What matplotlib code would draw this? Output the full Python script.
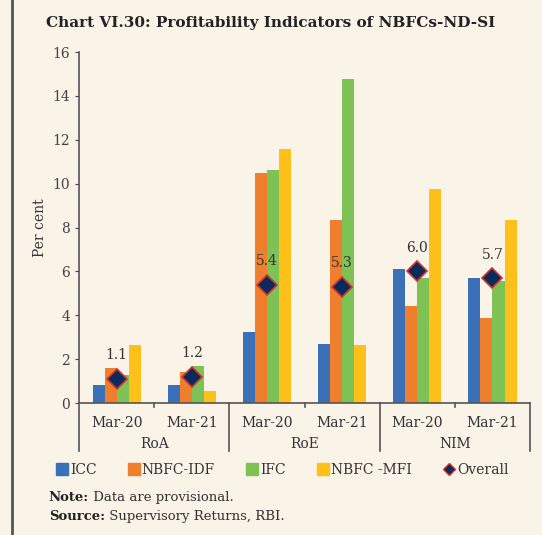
import numpy as np
import matplotlib.pyplot as plt
from matplotlib.lines import Line2D

cats = ['Mar-20', 'Mar-21', 'Mar-20', 'Mar-21', 'Mar-20', 'Mar-21']
groups = ['RoA', 'RoE', 'NIM']
icc = [0.84, 0.80, 3.24, 2.68, 6.12, 5.71]
idf = [1.61, 1.41, 10.48, 8.36, 4.41, 3.88]
ifc = [1.26, 1.69, 10.60, 14.75, 5.71, 5.56]
mfi = [2.63, 0.55, 11.60, 2.63, 9.77, 8.36]
overall = [1.1, 1.2, 5.4, 5.3, 6.0, 5.7]

bg = '#FAF3E8'
plt.rcParams['font.family'] = 'DejaVu Serif'
fig = plt.figure(figsize=(5.42, 5.35), dpi=100, facecolor=bg)
ax = fig.add_axes([0.1458, 0.2467, 0.8322, 0.6561], facecolor=bg)

x = np.arange(len(cats))
w = 0.16
cols = ['#3A70B8', '#F07F2D', '#7EC155', '#FFC01A']
names = ['ICC', 'NBFC-IDF', 'IFC', 'NBFC -MFI']
for i, (vals, c, n) in enumerate(zip([icc, idf, ifc, mfi], cols, names)):
    ax.bar(x + (i - 1.5) * w, vals, w, color=c, label=n)
ax.plot(x, overall, 'D', ms=10, color='#0B2A5C', mec='#D0342C', mew=1.2, ls='none', label='Overall')
for xi, v in zip(x, overall):
    ax.text(xi, v + 0.75, '%.1f' % v, ha='center', va='bottom', fontsize=10, color='#333333')

ax.set_xlim(-0.5, 5.5)
ax.set_ylim(0, 16)
ax.set_yticks(range(0, 17, 2))
ax.set_xticks([])
ax.tick_params(axis='y', labelsize=10, colors='#444444', length=3)
ax.set_ylabel('Per cent', fontsize=10, color='#333333', labelpad=4)
for s in ['top', 'right']:
    ax.spines[s].set_visible(False)
for s in ['left', 'bottom']:
    ax.spines[s].set_color('#555555')
    ax.spines[s].set_linewidth(1.2)

# category labels and separators below axis
for xi, c in zip(x, cats):
    ax.text(xi, -0.9, c, ha='center', va='center', fontsize=10, color='#333333')
for k, g in enumerate(groups):
    ax.text(2 * k + 0.5, -1.85, g, ha='center', va='center', fontsize=10, color='#333333')
for b in [-0.5, 1.5, 3.5, 5.5]:
    ax.plot([b, b], [0, -2.2], color='#555555', lw=1.2, clip_on=False)
for b in [0.5, 2.5, 4.5]:
    ax.plot([b, b], [0, -0.2], color='#555555', lw=1.2, clip_on=False)

fig.text(0.5, 0.957, 'Chart VI.30: Profitability Indicators of NBFCs-ND-SI',
         ha='center', va='center', fontsize=11, fontweight='bold', color='#222222')

handles = [Line2D([], [], marker='s', ls='none', color=c, ms=8) for c in cols]
handles.append(Line2D([], [], marker='D', ls='none', color='#0B2A5C', mec='#D0342C', ms=6))
fig.legend(handles, names + ['Overall'], loc='center', bbox_to_anchor=(0.52, 0.121), ncol=5,
           frameon=False, fontsize=10, handletextpad=0.05, columnspacing=2.2,
           handlelength=1.0, labelcolor='#333333')

t1 = fig.text(0.09, 0.07, 'Note:', fontsize=9.5, fontweight='bold', color='#222222', va='center')
ax.annotate(' Data are provisional.', xy=(1, 0), xycoords=t1, va='bottom', fontsize=9.5, color='#333333')
t2 = fig.text(0.09, 0.035, 'Source:', fontsize=9.5, fontweight='bold', color='#222222', va='center')
ax.annotate(' Supervisory Returns, RBI.', xy=(1, 0), xycoords=t2, va='bottom', fontsize=9.5, color='#333333')

fig.add_artist(Line2D([0.022, 0.022], [0, 1], color='#555555', lw=2))

fig.savefig('out.png', dpi=100, facecolor=bg)
